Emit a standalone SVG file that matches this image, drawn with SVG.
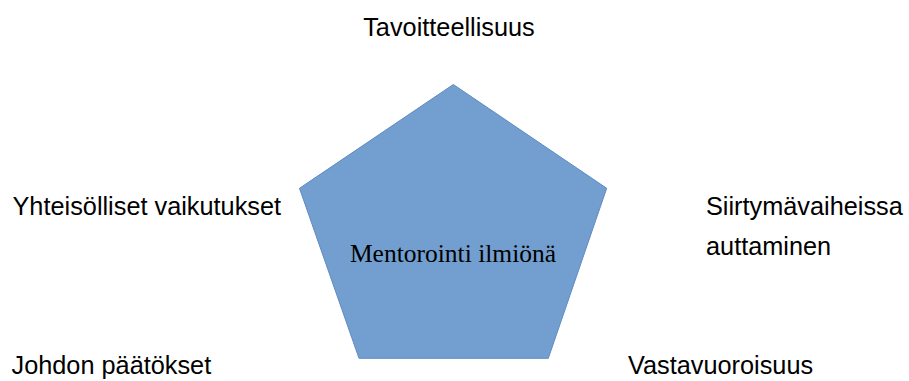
<svg xmlns="http://www.w3.org/2000/svg" width="909" height="381" viewBox="0 0 909 381">
<style>
.lbl{font-family:"Liberation Sans",Arial,sans-serif;font-size:25.3px;fill:#000}
.ctr{font-family:"Liberation Serif","Times New Roman",serif;font-size:25.5px;fill:#000}
.pent{fill:#729fcf;stroke:#5f8ac2;stroke-width:1}
</style>
<rect width="909" height="381" fill="#fff"/>
<g id="center">
<polygon class="pent" points="453.3,84.5 606.7,188.3 548.3,358.3 359,358.3 299.5,188.3"/>
<text class="ctr" x="453" y="262" text-anchor="middle">Mentorointi ilmiönä</text>
</g>
<g id="top"><text class="lbl" x="449" y="36" text-anchor="middle">Tavoitteellisuus</text></g>
<g id="left"><text class="lbl" x="12.5" y="215">Yhteisölliset vaikutukset</text></g>
<g id="right"><text class="lbl" x="706" y="215">Siirtymävaiheissa</text><text class="lbl" x="706" y="255">auttaminen</text></g>
<g id="bottomleft"><text class="lbl" x="11.5" y="374.3">Johdon päätökset</text></g>
<g id="bottomright"><text class="lbl" x="628" y="374.3">Vastavuoroisuus</text></g>
<g id="connectors"></g>
</svg>
